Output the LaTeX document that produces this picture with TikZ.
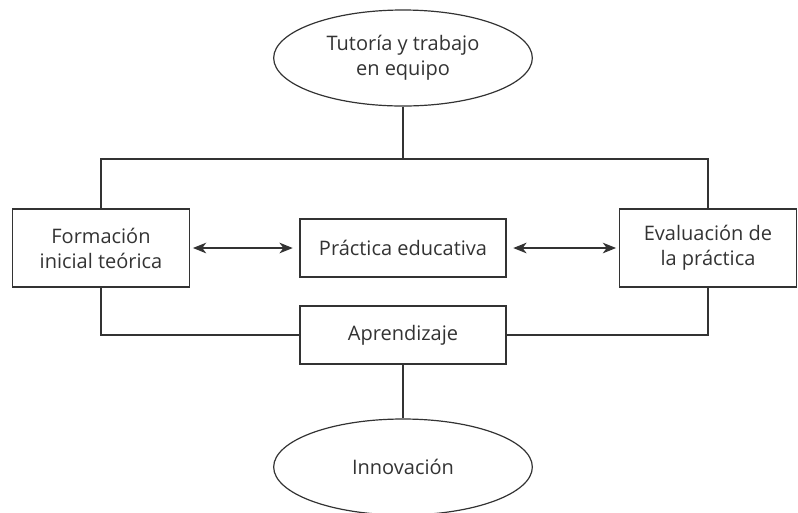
\documentclass[tikz,border=0pt]{standalone}
\usepackage{fontspec}
\setmainfont{Open Sans}
\usepackage{tikz}
\usetikzlibrary{positioning, arrows.meta, shapes.geometric}
\definecolor{ink}{HTML}{333333}

\tikzset{
  txt/.style={font=\fontsize{15}{18.75}\selectfont, text=ink, align=center},
  oval/.style={txt, ellipse, draw=ink, line width=0.9pt, inner sep=0pt,
               minimum width=194pt, minimum height=72pt},
  box/.style={txt, rectangle, draw=ink, line width=0.9pt, inner sep=0pt},
  sidebox/.style={box, minimum width=133pt, minimum height=58.5pt},
  midbox/.style={box, minimum width=154.5pt, minimum height=43.5pt},
  link/.style={draw=ink, line width=0.9pt},
  twoway/.style={link, {Stealth[length=10pt, width=8pt, inset=3pt]}-{Stealth[length=10pt, width=8pt, inset=3pt]},
                 shorten <=2pt, shorten >=5pt}
}

\begin{document}
\begin{tikzpicture}[x=0.75pt, y=-0.75pt]
  \useasboundingbox (0,0) rectangle (798,512);
  % top and bottom goals
  \node[oval] (tutoria) at (403,58) {Tutoría y trabajo\\en equipo};
  \node[oval] (innova) at (403,467) {Innovación};
  % the three stages
  \node[sidebox] (formacion) at (101,248) {Formación\\inicial teórica};
  \node[midbox] (practica) at (403,248) {Práctica educativa};
  \node[sidebox] (evaluacion) at (708,248) {Evaluación de\\la práctica};
  \node[midbox] (aprend) at (403,335) {Aprendizaje};
  \coordinate (bus) at (403,159);
  % connectors
  \draw[link] (tutoria.south) -- (bus);
  \draw[link] (formacion.north) |- (bus) -| (evaluacion.north);
  \draw[twoway] (formacion) -- (practica);
  \draw[twoway] (evaluacion) -- (practica);
  \draw[link] (formacion.south) |- (aprend.west);
  \draw[link] (evaluacion.south) |- (aprend.east);
  \draw[link] (aprend.south) -- (innova.north);
\end{tikzpicture}
\end{document}
